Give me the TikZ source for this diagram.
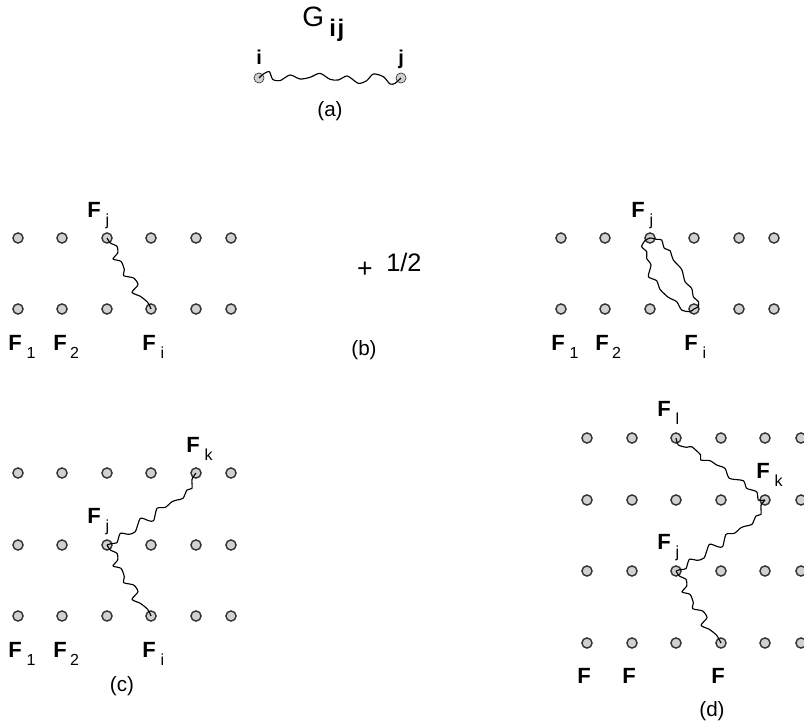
\documentclass[tikz,border=0pt]{standalone}
\usepackage{fontspec}
\setmainfont{Liberation Sans}
\newcommand{\FF}[1]{\textbf{F}\kern3.6pt\raisebox{-6pt}{\fontsize{12pt}{14pt}\selectfont #1}}
\newcommand{\FFb}[1]{\textbf{F}\kern2.6pt\raisebox{-6pt}{\fontsize{12pt}{14pt}\selectfont #1}}
\newcommand{\wigJI}[2]{\begin{scope}[shift={(#1)},x=.25pt,y=-.25pt]
\draw[wig] plot[smooth,tension=.4] coordinates {(#1) (10,15) (30,25) (32,45) (18,63) (42,70) (52,95) (50,113) (80,120) (93,140) (75,163) (100,175) (122,193) (#2)};
\end{scope}}
\newcommand{\wigJK}[2]{\begin{scope}[shift={(#1)},x=.25pt,y=-.25pt]
\draw[wig] plot[smooth,tension=.4] coordinates {(#1) (15,-5) (30,-7) (40,-35) (65,-32) (85,-40) (100,-80) (125,-73) (140,-73) (150,-110) (175,-113) (195,-130) (210,-135) (228,-140) (240,-165) (255,-170) (255,-197) (#2)};
\end{scope}}
\tikzset{
  dot/.style={circle,draw=black!80,line width=1.05pt,fill=black!18,minimum size=7.6pt,inner sep=0pt},
  wig/.style={draw=black,line width=.85pt,line join=round},
  flab/.style={anchor=base west,inner sep=0pt,font=\fontsize{16.5pt}{19pt}\selectfont},
  captext/.style={inner sep=0pt,font=\fontsize{15.5pt}{18pt}\selectfont},
  bigt/.style={inner sep=0pt,anchor=base west,font=\fontsize{19pt}{22pt}\selectfont},
  bl/.style={inner sep=0pt,anchor=base west,font=\fontsize{15pt}{17pt}\selectfont\bfseries}
}
\begin{document}
\begin{tikzpicture}[x=.75pt,y=-.75pt]
\clip (0,0) rectangle (804,725);
\useasboundingbox (0,0) rectangle (804,725);
\fill[white] (0,0) rectangle (804,725);
% (a)
\node[bigt,font=\fontsize{21pt}{24pt}\selectfont] (G) at (302,26) {G};
\node[inner sep=0pt,anchor=base west,font=\fontsize{18pt}{20pt}\selectfont\bfseries] (ij) at (329,36) {i\kern1.2pt j};
\node[bl] (li) at (256,64) {i};
\node[bl] (lj) at (398,64) {j};
\node[dot,line width=.5pt] (ai) at (259,78) {};
\node[dot,line width=.5pt] (aj) at (401,78) {};
\begin{scope}[shift={(230,0)},x=.25pt,y=-.25pt]
\draw[wig] plot[smooth,tension=.45] coordinates {(ai) (100,222) (118,215) (128,238) (150,242) (180,225) (210,237) (240,232) (270,220) (300,238) (325,240) (352,228) (385,250) (410,242) (430,222) (460,230) (480,252) (495,250) (aj)};
\end{scope}
\node[captext] (capa) at (330,111) {(a)};
% (b) left
\foreach \i/\x in {1/18,2/62,3/107,4/151,5/196,6/231}{
  \node[dot] (bt\i) at (\x,238) {};
  \node[dot] (bb\i) at (\x,309) {};
  \node[dot] (ct\i) at (\x,473) {};
  \node[dot] (cm\i) at (\x,545) {};
  \node[dot] (cb\i) at (\x,616) {};
}
\wigJI{bt3}{bb4}
\node[flab] (bFj) at (87,217) {\FF{j}};
\node[flab] (bF1) at (8,350) {\FF{1}};
\node[flab] (bF2) at (53,350) {\FFb{2}};
\node[flab] (bFi) at (142,350) {\FF{i}};
\node[captext] (capb) at (364,350) {(b)};
\node[inner sep=0pt,font=\fontsize{20pt}{22pt}\selectfont] (plus) at (365,270) {+};
\node[bigt] (half) at (386,271) {1/2};
% (b) right
\foreach \i/\x in {1/561,2/605,3/650,4/694,5/739,6/774}{
  \node[dot] (rt\i) at (\x,238) {};
  \node[dot] (rb\i) at (\x,309) {};
}
\begin{scope}[shift={(545,190)},x=.25pt,y=-.25pt]
\draw[wig] plot[smooth cycle,tension=.4] coordinates {(rb4) (435,365) (410,360) (395,335) (370,322) (345,298) (335,272) (310,260) (318,225) (305,205) (305,185) (290,170) (300,152) (rt3) (335,148) (350,150) (358,175) (375,182) (385,210) (410,238) (420,275) (440,295) (445,320) (460,335) (460,350)};
\end{scope}
\node[flab] (rFj) at (631,217) {\FF{j}};
\node[flab] (rF1) at (551,350) {\FF{1}};
\node[flab] (rF2) at (595,350) {\FFb{2}};
\node[flab] (rFi) at (684,350) {\FF{i}};
% (c)
\wigJI{cm3}{cb4}
\wigJK{cm3}{ct5}
\node[flab] (cFk) at (186,452) {\FF{k}};
\node[flab] (cFj) at (87,523) {\FF{j}};
\node[flab] (cF1) at (8,657) {\FF{1}};
\node[flab] (cF2) at (53,657) {\FFb{2}};
\node[flab] (cFi) at (142,657) {\FF{i}};
\node[captext] (capc) at (122,686) {(c)};
% (d)
\foreach \i/\x in {1/587,2/632,3/676,4/721,5/765,6/801}{
  \node[dot] (d1\i) at (\x,438) {};
  \node[dot] (d2\i) at (\x,500) {};
  \node[dot] (d3\i) at (\x,571) {};
  \node[dot] (d4\i) at (\x,643) {};
}
\wigJI{d33}{d44}
\wigJK{d33}{d25}
\begin{scope}[shift={(570,390)},x=.25pt,y=-.25pt]
\draw[wig] plot[smooth,tension=.4] coordinates {(d13) (325,165) (350,172) (365,170) (392,195) (392,210) (420,212) (440,225) (465,235) (478,265) (520,272) (530,295) (560,305) (565,330) (d25)};
\end{scope}
\node[flab] (dFl) at (657,416) {\FF{l}};
\node[flab] (dFk) at (756,478) {\FF{k}};
\node[flab] (dFj) at (657,549) {\FF{j}};
\node[flab] (dF1) at (577,683) {\textbf{F}};
\node[flab] (dF2) at (622,683) {\textbf{F}};
\node[flab] (dFi) at (711,683) {\textbf{F}};
\node[captext] (capd) at (712,711) {(d)};
\end{tikzpicture}
\end{document}
